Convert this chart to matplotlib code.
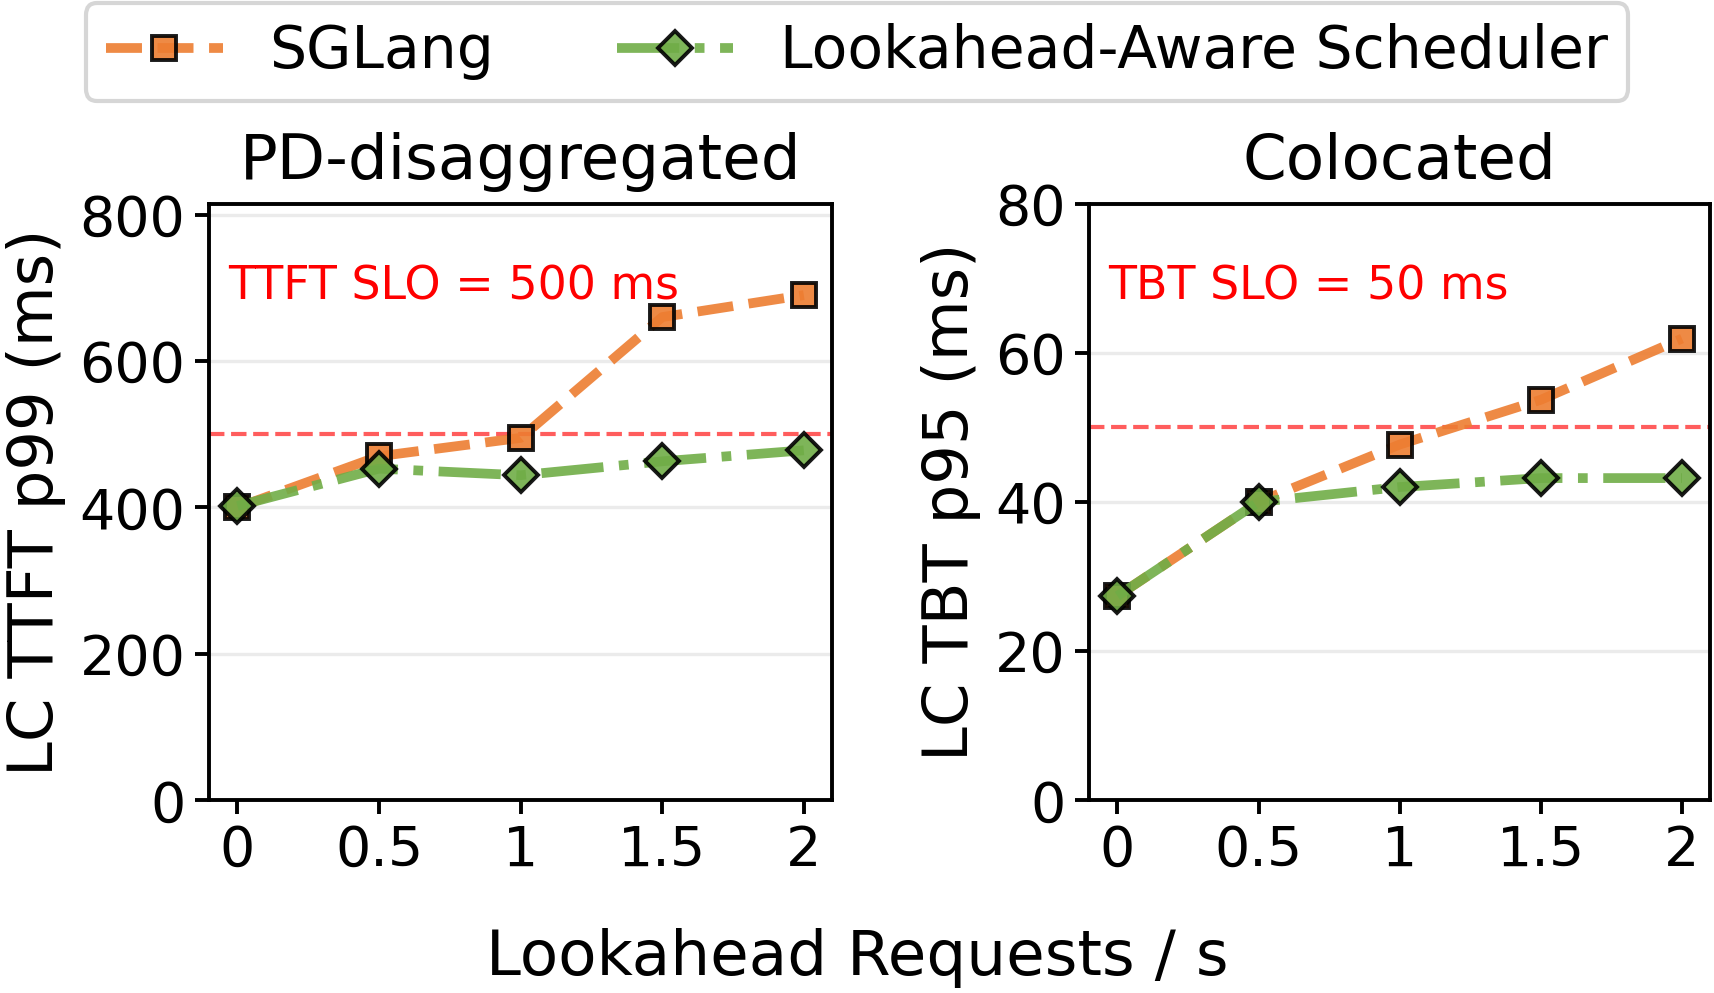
import matplotlib
matplotlib.use("Agg")
import matplotlib.pyplot as plt
from matplotlib.lines import Line2D

x_rates = [0, 0.5, 1, 1.5, 2]
x_ticklabels = ["0", "0.5", "1", "1.5", "2"]

pd_sglang = [400, 470, 495, 660, 690]
pd_lookahead = [402, 453, 444, 463, 478]
co_sglang = [27.4, 40, 47.7, 53.7, 61.9]
co_lookahead = [27.4, 40, 42, 43.2, 43.2]

titles = ["PD-disaggregated", "Colocated"]
ylabels = ["LC TTFT p99 (ms)", "LC TBT p95 (ms)"]
slo_values = [500, 50]
slo_texts = ["TTFT SLO = 500 ms", "TBT SLO = 50 ms"]
yticks_list = [[0, 200, 400, 600, 800], [0, 20, 40, 60, 80]]
ylims = [(0, 815), (0, 80)]
series_names = ["SGLang", "Lookahead-Aware Scheduler"]

orange = "#ED7D31"
green = "#70AD47"
LW = 3.5
MS = 8.5
ALPHA = 0.9

fig = plt.figure(figsize=(8.57, 4.965), dpi=200)
ax1 = fig.add_axes([0.122, 0.194, 0.3635, 0.601])
ax2 = fig.add_axes([0.6355, 0.194, 0.3623, 0.601])

style_sg = dict(color=orange, linestyle="--", linewidth=LW, marker="s", markersize=MS,
                markerfacecolor=orange, markeredgecolor="#000000", markeredgewidth=1.4,
                alpha=ALPHA)
style_la = dict(color=green, linestyle="-.", linewidth=LW, marker="D", markersize=MS,
                markerfacecolor=green, markeredgecolor="#000000", markeredgewidth=1.4,
                alpha=ALPHA)

data = [(pd_sglang, pd_lookahead), (co_sglang, co_lookahead)]
for i, ax in enumerate([ax1, ax2]):
    sg, la = data[i]
    ax.axhline(slo_values[i], color="#FF4040", alpha=0.85, linestyle="--",
               linewidth=1.5, zorder=2)
    ax.plot(x_rates, sg, zorder=3, **style_sg)
    ax.plot(x_rates, la, zorder=4, **style_la)
    ax.set_xlim(-0.1, 2.1)
    ax.set_ylim(*ylims[i])
    ax.set_xticks(x_rates)
    ax.set_xticklabels(x_ticklabels)
    ax.set_yticks(yticks_list[i])
    ax.yaxis.grid(True, color="#EBEBEB", linewidth=1.2, zorder=0)
    ax.set_axisbelow(True)
    ax.tick_params(labelsize=20, width=1.4, length=5)
    for s in ax.spines.values():
        s.set_linewidth(1.4)
    ax.set_title(titles[i], fontsize=22.6, pad=9)
    ax.set_ylabel(ylabels[i], fontsize=22.5, labelpad=5)
    ax.text(0.03, 0.86, slo_texts[i], transform=ax.transAxes, color="red",
            fontsize=16.5, va="center", ha="left")

fig.text(0.5, 0.035, "Lookahead Requests / s", fontsize=22.6, ha="center", va="center")

handles = [Line2D([], [], **style_sg), Line2D([], [], **style_la)]
leg = fig.legend(handles, series_names, loc="upper center", bbox_to_anchor=(0.5, 1.0),
                 ncol=2, fontsize=21, frameon=True, fancybox=True, edgecolor="#CCCCCC",
                 columnspacing=2.1, handlelength=2.0, borderpad=0.35, borderaxespad=0.05)
leg.get_frame().set_linewidth(1.5)

fig.savefig("out.png", dpi=200)
